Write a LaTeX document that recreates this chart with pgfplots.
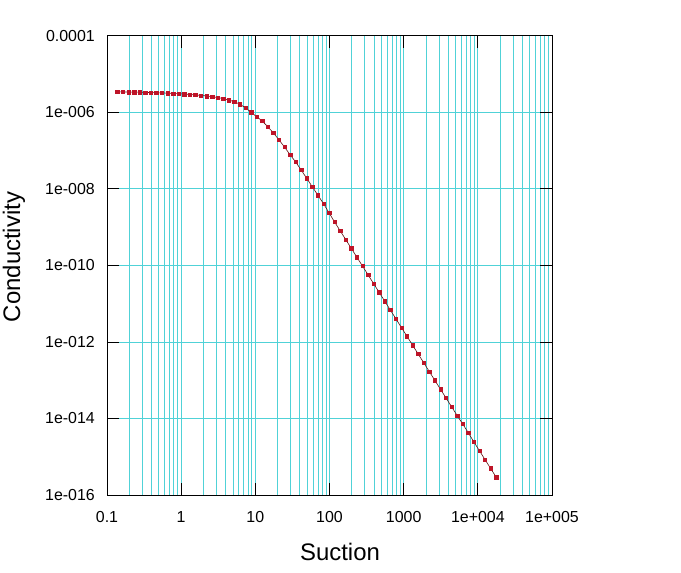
\documentclass[border=0pt]{standalone}
\usepackage{pgfplots}
\pgfplotsset{compat=1.18}
\usepackage{fontspec}
\setmainfont{Liberation Sans}
\definecolor{gridcyan}{RGB}{80,210,215}
\definecolor{markred}{RGB}{190,20,40}
\definecolor{linered}{RGB}{90,15,15}
\begin{document}
\begin{tikzpicture}[x=1bp,y=1bp]
\path[use as bounding box] (0,0) rectangle (681,573);
\begin{axis}[
  at={(107bp,78bp)}, anchor=south west,
  width=445bp, height=459bp, scale only axis,
  xmode=log, ymode=log,
  xmin=0.1, xmax=1e5, ymin=1e-16, ymax=1e-4,
  xtick={0.1,1,10,100,1000,1e4,1e5},
  xticklabels={0.1,1,10,100,1000,1e+004,1e+005},
  ytick={1e-16,1e-14,1e-12,1e-10,1e-8,1e-6,1e-4},
  yticklabels={1e-016,1e-014,1e-012,1e-010,1e-008,1e-006,0.0001},
  yminorticks=false,
  xminorgrids=true, xmajorgrids=true, ymajorgrids=true,
  major grid style={gridcyan, line width=1bp},
  minor grid style={gridcyan, line width=1bp},
  tick align=inside,
  xtick pos=both, ytick pos=both,
  major tick length=12bp, minor tick length=0pt,
  every tick/.style={black, line width=1bp},
  axis line style={black, line width=1bp},
  tick label style={font=\fontsize{16}{19}\selectfont, inner sep=0pt},
  xticklabel style={anchor=north, yshift=-16bp},
  yticklabel style={anchor=east, xshift=-12bp},
  xlabel={Suction}, ylabel={Conductivity},
  label style={font=\fontsize{24}{28}\selectfont},
  xlabel style={at={(axis description cs:0.5236,-0.1416)}, anchor=base, inner sep=0pt},
  ylabel style={at={(axis description cs:-0.1955,0.5185)}, anchor=base, rotate=0, inner sep=0pt},
  clip=false,
]
\addplot[color=linered, line width=0.6bp, mark=square*, mark size=1.7bp,
  mark options={draw=markred, fill=markred, line width=0.3bp}] table {
x y
0.1377 3.467e-6
0.1637 3.451e-6
0.1946 3.436e-6
0.2313 3.412e-6
0.2750 3.388e-6
0.3269 3.357e-6
0.3887 3.327e-6
0.4620 3.289e-6
0.5493 3.251e-6
0.6530 3.206e-6
0.7762 3.155e-6
0.9228 3.097e-6
1.097 3.034e-6
1.304 2.965e-6
1.550 2.884e-6
1.843 2.799e-6
2.191 2.704e-6
2.604 2.594e-6
3.096 2.466e-6
3.681 2.312e-6
4.375 2.128e-6
5.202 1.905e-6
6.184 1.660e-6
7.351 1.318e-6
8.739 1.023e-6
10.39 7.762e-7
12.35 6.026e-7
14.68 4.266e-7
17.45 2.951e-7
20.75 1.950e-7
24.66 1.259e-7
29.32 7.943e-8
34.85 5.129e-8
41.43 3.162e-8
49.26 1.905e-8
58.55 1.148e-8
69.61 6.918e-9
82.75 4.169e-9
98.36 2.399e-9
116.9 1.380e-9
139.0 8.128e-10
165.2 4.786e-10
196.4 2.818e-10
233.5 1.660e-10
277.6 9.772e-11
330.0 5.754e-11
392.3 3.388e-11
466.4 1.995e-11
554.4 1.175e-11
659.0 6.918e-12
783.4 4.074e-12
931.3 2.399e-12
1107 1.413e-12
1316 8.318e-13
1564 4.898e-13
1860 2.884e-13
2211 1.698e-13
2628 1.000e-13
3124 5.888e-14
3714 3.467e-14
4416 2.042e-14
5249 1.202e-14
6240 7.244e-15
7418 4.266e-15
8818 2.455e-15
10484 1.445e-15
12462 8.511e-16
14815 5.012e-16
17612 2.951e-16
};
\end{axis}
\end{tikzpicture}
\end{document}
